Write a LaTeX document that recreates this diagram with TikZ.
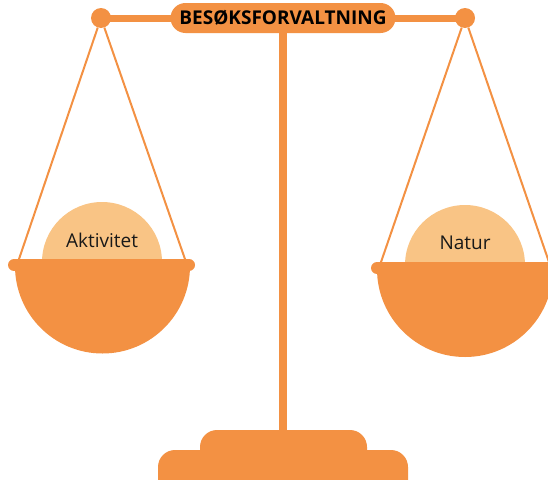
\documentclass[tikz,border=0pt]{standalone}
\usepackage{fontspec}
\setmainfont{Open Sans}
\usetikzlibrary{positioning}
\definecolor{scaleorange}{HTML}{F39143}
\definecolor{scalelight}{HTML}{F9C485}

\begin{document}
\begin{tikzpicture}[x=1pt,y=-1pt,
  bar/.style={scaleorange,line width=7pt},
  pole/.style={scaleorange,line width=8pt},
  rope/.style={scaleorange,line width=2pt},
  knob/.style={circle,fill=scaleorange,minimum size=20pt,inner sep=0pt},
  rim/.style={scaleorange,line width=12pt,line cap=round},
  weight/.style={fill=scalelight},
  wlabel/.style={font=\fontsize{19}{19}\selectfont,text=black!90}]
  \clip (0,0) rectangle (548,479);

  % hanging points of the pans
  \coordinate (lal) at (18,262);
  \coordinate (lar) at (186,262);
  \coordinate (ral) at (380,265);
  \coordinate (rar) at (550,265);

  \draw[bar] (101,18) -- (465,18);
  \node (lk) [knob] at (101,18) {};
  \node (rk) [knob] at (465,18) {};
  \draw[rope] (lk) -- (lal);
  \draw[rope] (lk) -- (lar);
  \draw[rope] (rk) -- (ral);
  \draw[rope] (rk) -- (rar);

  % base
  \coordinate (foot) at (283,440);
  \fill[scaleorange,rounded corners=17pt] (200,430) rectangle (367,470);
  \fill[scaleorange,rounded corners=17pt] (158,450) rectangle (408,500);

  \node (title) [fill=scaleorange,rounded corners=15pt,minimum width=225pt,
    minimum height=30pt,inner sep=0pt,font=\bfseries\fontsize{19}{19}\selectfont]
    at (283,18) {BESØKSFORVALTNING};
  \draw[pole] (title.south) -- (foot);

  % left pan
  \fill[weight] (102,262) circle[radius=60pt];
  \node (akt) [wlabel] at (102,240) {Aktivitet};
  \fill[scaleorange] (15,259) -- (190,259) -- (190,266)
    arc[start angle=0,end angle=-180,radius=87.5pt] -- cycle;
  \draw[rim] (14,265) -- (189,265);

  % right pan
  \fill[weight] (465,265) circle[radius=60pt];
  \node (nat) [wlabel] at (465,243) {Natur};
  \fill[scaleorange] (377,262) -- (553,262) -- (553,269)
    arc[start angle=0,end angle=-180,radius=88pt] -- cycle;
  \draw[rim] (377,268) -- (560,268);
\end{tikzpicture}
\end{document}
